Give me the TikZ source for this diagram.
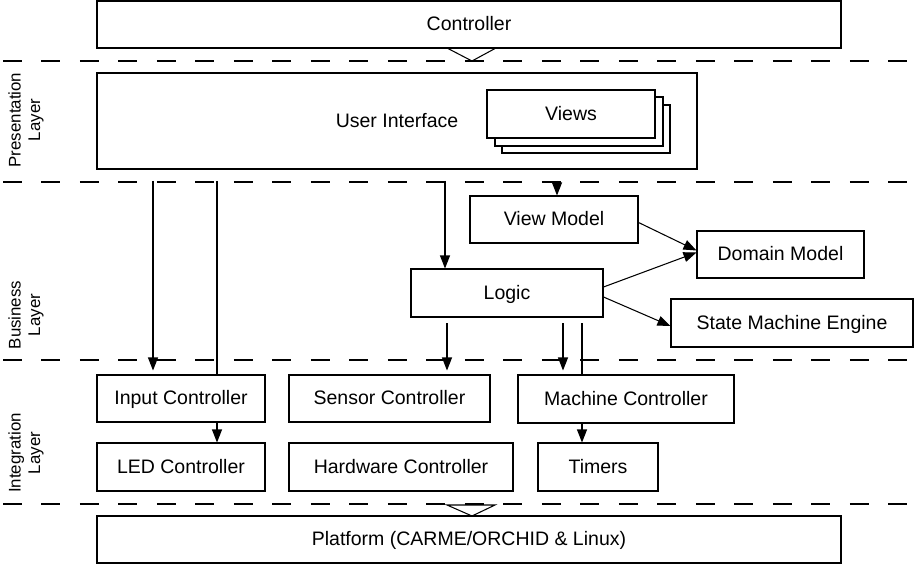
\documentclass[tikz,border=0pt]{standalone}
\usepackage{fontspec}
\setmainfont{Liberation Sans}
\usetikzlibrary{arrows.meta,calc}
\newcommand\mkbox[6]{%
 \pgfmathsetmacro\mkw{(#4-#2)*0.02}%
 \pgfmathsetmacro\mkh{(#5-#3)*0.02}%
 \node[box, minimum width=\mkw cm, minimum height=\mkh cm] (#1) at ({(#2+#4)/2},{(#3+#5)/2}) {#6};}
\begin{document}
\begin{tikzpicture}[x=0.02cm, y=-0.02cm,
  box/.style={draw, fill=white, line width=0.6pt, inner sep=0pt, text height=0.72em, text depth=0pt, font=\fontsize{11.1}{13}\selectfont},
  arr/.style={line width=0.6pt, -{Triangle[length=0.26cm,width=0.2cm]}},
  plain/.style={line width=0.6pt},
  layer/.style={draw=black, line width=1.7pt, dash pattern=on 0.38cm off 0.39cm},
  lbl/.style={rotate=90, align=center, inner sep=0pt, font=\fontsize{9.6}{11}\selectfont}]
\useasboundingbox[fill=white] (0,0) rectangle (916,564);

% layer separators
\foreach \yy/\nm in {61/a,182/b,360/c,504/d}{
  \coordinate (\nm l) at (3,\yy);
  \coordinate (\nm r) at (916,\yy);
  \draw[layer] (\nm l) -- (\nm r);
}

% layer labels
\node[lbl] (lp) at (26,120) {Presentation\\Layer};
\node[lbl] (lb) at (26,315) {Business\\Layer};
\node[lbl] (li) at (26,453) {Integration\\Layer};

% boxes
\mkbox{ctrl}{97}{1}{841}{48}{Controller}
\mkbox{ui}{97}{73}{697}{169}{}
\node[font=\fontsize{11.1}{13}\selectfont, inner sep=0pt, text height=0.72em, text depth=0pt] (uit) at (397,121) {User Interface};
\mkbox{v3}{502}{105}{670}{153}{}
\mkbox{v2}{495}{97}{663}{146}{}
\mkbox{views}{487}{90}{655}{138}{Views}
\mkbox{vm}{470}{196}{638}{243}{View Model}
\mkbox{dm}{697}{231}{864}{278}{Domain Model}
\mkbox{logic}{411}{269}{603}{317}{Logic}
\mkbox{sme}{671}{299}{913}{347}{State Machine Engine}
\mkbox{inp}{97}{375}{265}{422}{Input Controller}
\mkbox{sens}{289}{375}{490}{422}{Sensor Controller}
\mkbox{mach}{518}{375}{734}{423}{Machine Controller}
\mkbox{led}{97}{443}{265}{491}{LED Controller}
\mkbox{hw}{289}{443}{513}{491}{Hardware Controller}
\mkbox{tim}{538}{443}{658}{491}{Timers}
\mkbox{plat}{97}{516}{841}{563}{Platform (CARME/ORCHID \& Linux)}

% start points of connectors
\coordinate (s1) at (153,181);
\coordinate (s2) at (217,181);
\coordinate (s3) at (445,181);
\coordinate (s4) at (557,181);
\coordinate (s5) at (447,323);
\coordinate (s6) at (563,323);
\coordinate (s7) at (582,323);

\draw[arr, shorten >=0.08cm] (s1) -- (s1 |- inp.north);
\draw[plain] (s2) -- (s2 |- inp.north);
\draw[arr] (s2 |- inp.south) -- (s2 |- led.north);
\draw[arr] (s3) -- (s3 |- logic.north);
\draw[arr] (s4) -- (s4 |- vm.north);
\draw[arr, shorten >=0.08cm] (s5) -- (s5 |- sens.north);
\draw[arr, shorten >=0.08cm] (s6) -- (s6 |- mach.north);
\draw[plain] (s7) -- (s7 |- mach.north);
\draw[arr] (s7 |- mach.south) -- (s7 |- tim.north);

\draw[arr] ($(vm.east)+(0,3)$) -- ($(dm.west)+(0,-4)$);
\draw[arr] ($(logic.east)+(0,-6)$) -- ($(dm.west)+(0,-2)$);
\draw[arr] ($(logic.east)+(0,4)$) -- ($(sme.west)+(0,3)$);

% inheritance triangles
\coordinate (ta) at (472,61);
\draw[plain] ($(ctrl.south)+(-21,0)$) -- (ta) -- ($(ctrl.south)+(26,0)$);
\coordinate (pa) at (472,516);
\draw[plain] ($(pa)+(-25,-11)$) -- (pa) -- ($(pa)+(23,-11)$) -- cycle;
\end{tikzpicture}
\end{document}
